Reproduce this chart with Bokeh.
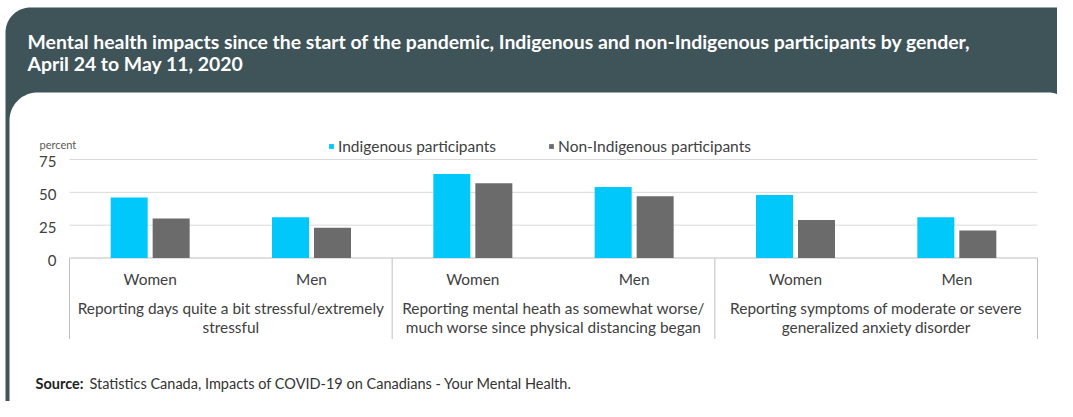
import numpy as np
from bokeh.plotting import figure
from bokeh.models import Range1d, Legend, LegendItem
from bokeh.core.properties import value
from bokeh.embed import file_html
from bokeh.resources import INLINE

# ---------------- data ----------------
title_lines = [
    "Mental health impacts since the start of the pandemic, Indigenous and non-Indigenous participants by gender,",
    "April 24 to May 11, 2020",
]
groups = [
    "Reporting days quite a bit stressful/extremely\nstressful",
    "Reporting mental heath as somewhat worse/\nmuch worse since physical distancing began",
    "Reporting symptoms of moderate or severe\ngeneralized anxiety disorder",
]
genders = ["Women", "Men"]
series_names = ["Indigenous participants", "Non-Indigenous participants"]
indigenous = [46, 31, 64, 54, 48, 31]
non_indigenous = [30, 23, 57, 47, 29, 21]
y_ticks = [0, 25, 50, 75]
y_label = "percent"
source_label = "Source:"
source_text = "Statistics Canada, Impacts of COVID-19 on Canadians  - Your Mental Health."

# ---------------- style / layout ----------------
DARK = "#3f5459"
CYAN = "#00c8fa"
GREY = "#6b6b6b"
TEXT = "#404040"
GRID = "#d9d9d9"
AXIS = "#bfbfbf"
FONT = "Lato"

W, H = 1057, 401
OFF = 0
PLOT_L, PLOT_R = 69.0, 1037.0
Y0_PX, YTOP_PX = 257.5, 159.0

n_groups = len(groups)
n_gen = len(genders)
n_slots = n_groups * n_gen
slot_w = (PLOT_R - PLOT_L) / n_slots
ppu = (Y0_PX - YTOP_PX) / (y_ticks[-1] - y_ticks[0])

p = figure(
    width=W, height=H,
    x_range=Range1d((OFF - PLOT_L) / slot_w, (OFF + W - PLOT_L) / slot_w),
    y_range=Range1d((Y0_PX - (OFF + H)) / ppu, (Y0_PX - OFF) / ppu),
    min_border=0, toolbar_location=None, tools="", output_backend="svg",
    x_axis_location=None, y_axis_location=None, outline_line_color=None,
    background_fill_color="white", border_fill_color="white",
)
p.extra_x_ranges = {"px": Range1d(OFF, OFF + W)}
p.extra_y_ranges = {"px": Range1d(OFF + H, OFF)}
p.grid.visible = False


def rrect(x0, y0, x1, y1, rtl, rtr, rbr, rbl, n=24):
    xs, ys = [], []
    for (cx, cy, r, a0) in [(x0 + rtl, y0 + rtl, rtl, np.pi),
                            (x1 - rtr, y0 + rtr, rtr, 1.5 * np.pi),
                            (x1 - rbr, y1 - rbr, rbr, 0.0),
                            (x0 + rbl, y1 - rbl, rbl, 0.5 * np.pi)]:
        t = np.linspace(a0, a0 + 0.5 * np.pi, n)
        xs.extend(cx + r * np.cos(t))
        ys.extend(cy + r * np.sin(t))
    return xs, ys


# frame: dark rounded card with white inner panel
ox, oy = rrect(5, 7, 1077, 421, 25, 18, 22, 22)
p.patch(ox, oy, fill_color=DARK, line_color=None, x_range_name="px", y_range_name="px")
ix, iy = rrect(9, 92, 1073, 417, 28, 25, 18, 18)
p.patch(ix, iy, fill_color="white", line_color=None, x_range_name="px", y_range_name="px")

# title
p.text(x=[27] * len(title_lines), y=[40.5, 62.5], text=title_lines,
       x_range_name="px", y_range_name="px", text_font=value(FONT),
       text_font_style="bold", text_font_size="19.4px", text_color="white",
       text_baseline="middle", text_align="left")

# gridlines and axis line
p.segment(x0=0, x1=n_slots, y0=y_ticks[1:], y1=y_ticks[1:], line_color=GRID, line_width=1)
p.segment(x0=0, x1=n_slots, y0=y_ticks[0], y1=y_ticks[0], line_color=AXIS, line_width=1)

# y tick labels
p.text(x=[56] * len(y_ticks), y=y_ticks, text=[str(t) for t in y_ticks],
       x_range_name="px", text_font=value(FONT), text_font_size="15px",
       text_color=TEXT, text_align="right", text_baseline="middle", y_offset=2)
p.text(x=[39], y=[144], text=[y_label], x_range_name="px", y_range_name="px",
       text_font=value(FONT), text_font_size="11px", text_color="#595959",
       text_baseline="middle")

# bars
centers = np.arange(n_slots) + 0.5
bar_w = 37.0 / slot_w
dodge = 21.0 / slot_w
r1 = p.vbar(x=centers - dodge, top=indigenous, bottom=0, width=bar_w,
            fill_color=CYAN, line_color=None)
r2 = p.vbar(x=centers + dodge, top=non_indigenous, bottom=0, width=bar_w,
            fill_color=GREY, line_color=None)

# category axis: separators, gender labels, group labels
seps = np.arange(0, n_slots + 1, n_gen)
p.segment(x0=seps, x1=seps, y0=Y0_PX, y1=338.5, y_range_name="px",
          line_color=AXIS, line_width=1)
p.text(x=centers, y=[278] * n_slots, text=genders * n_groups, y_range_name="px",
       text_font=value(FONT), text_font_size="15.4px", text_color=TEXT,
       text_align="center", text_baseline="middle")
g_centers = np.arange(n_groups) * n_gen + n_gen / 2
l1 = [g.split("\n")[0] for g in groups]
l2 = [g.split("\n")[1] for g in groups]
p.text(x=g_centers, y=[307.5] * n_groups, text=l1, y_range_name="px",
       text_font=value(FONT), text_font_size="15.4px", text_color=TEXT,
       text_align="center", text_baseline="middle")
p.text(x=g_centers, y=[326] * n_groups, text=l2, y_range_name="px",
       text_font=value(FONT), text_font_size="15.4px", text_color=TEXT,
       text_align="center", text_baseline="middle")

# legend
legend = Legend(
    items=[LegendItem(label=series_names[0], renderers=[r1]),
           LegendItem(label=series_names[1], renderers=[r2])],
    orientation="horizontal", location=(328 - OFF, OFF + H - 155),
    glyph_width=6, glyph_height=6, label_standoff=4, spacing=52,
    padding=0, margin=0, border_line_color=None, background_fill_alpha=0,
    label_text_font=FONT, label_text_font_size="15.5px", label_text_color=TEXT,
    label_height=16,
)
p.add_layout(legend)

# source
p.text(x=[35], y=[382.5], text=[source_label], x_range_name="px", y_range_name="px",
       text_font=value(FONT), text_font_style="bold", text_font_size="14.5px",
       text_color="#222222", text_baseline="middle")
p.text(x=[89], y=[382.5], text=[source_text], x_range_name="px", y_range_name="px",
       text_font=value(FONT), text_font_size="14.5px", text_color="#333333",
       text_baseline="middle")

open("out.html", "w").write(file_html(p, INLINE))
